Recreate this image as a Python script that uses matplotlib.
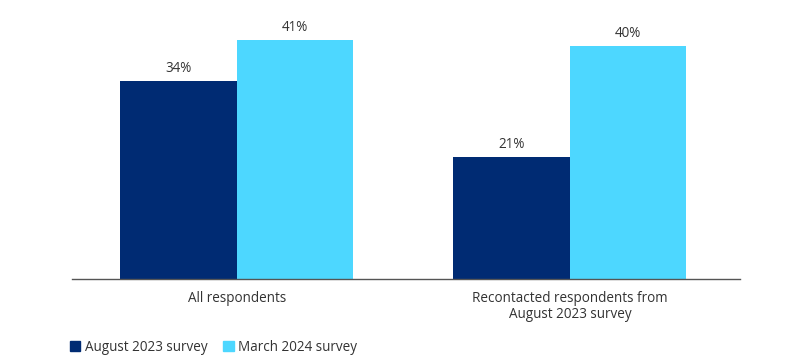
import matplotlib
matplotlib.use("Agg")
import matplotlib.pyplot as plt
from matplotlib.patches import Patch

categories = ["All respondents", "Recontacted respondents from\nAugust 2023 survey"]
series_names = ["August 2023 survey", "March 2024 survey"]
aug_2023 = [34, 21]
mar_2024 = [41, 40]
colors = ["#002B73", "#4DD7FF"]

plt.rcParams['font.family'] = ['Open Sans', 'DejaVu Sans']
text_color = "#333333"
fs = 9.75

fig = plt.figure(figsize=(7.87, 3.62), dpi=100)
ax = fig.add_axes([0.0915, 0.2293, 0.8485, 0.7427])

w = 0.35
x = [0, 1]
b1 = ax.bar([xi - w/2 for xi in x], aug_2023, width=w, color=colors[0], label=series_names[0])
b2 = ax.bar([xi + w/2 for xi in x], mar_2024, width=w, color=colors[1], label=series_names[1])

for bars, vals in ((b1, aug_2023), (b2, mar_2024)):
    for r, v in zip(bars, vals):
        ax.annotate(f"{v}%", (r.get_x() + r.get_width()/2, r.get_height()),
                    xytext=(0, 3.5), textcoords="offset points", ha="center", va="bottom",
                    fontsize=fs, color=text_color)

ax.set_xlim(-0.495, 1.51)
ax.set_ylim(0, 46.1)
ax.set_xticks(x)
ax.set_xticklabels(categories, fontsize=fs, color=text_color, linespacing=1.15)
ax.tick_params(axis='x', length=0, pad=8.5)
ax.set_yticks([])
for s in ("top", "right", "left"):
    ax.spines[s].set_visible(False)
ax.spines["bottom"].set_color("#555555")
ax.spines["bottom"].set_linewidth(1.0)

handles = [Patch(color=colors[0], label=series_names[0]), Patch(color=colors[1], label=series_names[1])]
fig.legend(handles=handles, loc="center left", bbox_to_anchor=(0.073, 0.04), ncol=2, frameon=False,
           fontsize=fs, handlelength=0.8, handleheight=0.8, handletextpad=0.3, columnspacing=1.2,
           labelcolor=text_color)

fig.savefig("out.png", dpi=100)
